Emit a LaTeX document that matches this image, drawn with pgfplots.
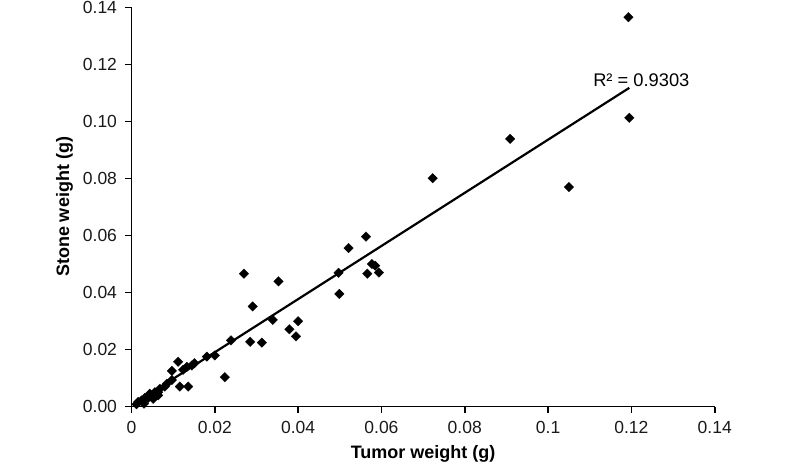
\documentclass[border=0pt]{standalone}
\usepackage{fontspec}
\setmainfont{Liberation Sans}
\usepackage{pgfplots}
\pgfplotsset{compat=1.18}
\usetikzlibrary{calc}
\begin{document}
\begin{tikzpicture}
\begin{axis}[
  name=ax,
  scale only axis,
  width=583.2bp, height=399bp,
  xmin=0, xmax=0.14, ymin=0, ymax=0.14,
  axis x line*=bottom, axis y line*=left,
  axis line style={-, line width=1.6bp, black},
  xtick={0,0.02,0.04,0.06,0.08,0.1,0.12,0.14},
  xticklabels={0,0.02,0.04,0.06,0.08,0.1,0.12,0.14},
  ytick={0,0.02,0.04,0.06,0.08,0.1,0.12,0.14},
  yticklabels={0.00,0.02,0.04,0.06,0.08,0.10,0.12,0.14},
  tick align=outside,
  major tick length=6bp,
  tick style={line width=1.6bp, black},
  ticklabel style={font=\fontsize{17.5bp}{20bp}\selectfont, text=black!90},
  yticklabel style={xshift=-5bp},
  xticklabel style={yshift=-5bp},
  xlabel={\textbf{Tumor weight (g)}},
  ylabel={\textbf{Stone weight (g)}},
  label style={font=\fontsize{18bp}{21bp}\selectfont},
  xlabel style={at={($(axis description cs:0.5,0)+(0,-47bp)$)}, anchor=center},
  ylabel style={at={($(axis description cs:0,0.5)+(-67bp,0)$)}, anchor=center},
  clip=false,
]
\addplot[only marks, mark=square*, mark size=3.4bp,
  mark options={rotate=45, fill=black, draw=black, line width=0.2bp}]
coordinates {
(0.1193,0.1366) (0.1195,0.1013) (0.1050,0.0770) (0.0909,0.0939)
(0.0723,0.0801) (0.0563,0.0596) (0.0521,0.0556) (0.0577,0.0500)
(0.0585,0.0494) (0.0594,0.0470) (0.0566,0.0466) (0.0497,0.0469)
(0.0499,0.0395) (0.0270,0.0466) (0.0353,0.0439) (0.0291,0.0351)
(0.0339,0.0304) (0.0400,0.0299) (0.0379,0.0271) (0.0395,0.0246)
(0.0239,0.0232) (0.0285,0.0227) (0.0313,0.0224) (0.0224,0.0103)
(0.0200,0.0179) (0.0181,0.0175) (0.0151,0.0152) (0.0112,0.0157)
(0.0133,0.0139) (0.0145,0.0144) (0.0124,0.0129) (0.0097,0.0125)
(0.0097,0.0093) (0.0116,0.0070) (0.0136,0.0070) (0.0080,0.0070)
(0.0068,0.0062) (0.0064,0.0050) (0.0056,0.0050) (0.0044,0.0045)
(0.0032,0.0030) (0.0024,0.0021) (0.0016,0.0016) (0.0052,0.0027)
(0.0064,0.0039) (0.0085,0.0080) (0.0030,0.0010) (0.0012,0.0008)
(0.0040,0.0030)
};
\addplot[black, line width=2.2bp] coordinates {(0.0012,0.0015) (0.1195,0.1118)};
\node[anchor=base west, font=\fontsize{18.3bp}{21bp}\selectfont, inner sep=0pt]
  at (axis cs:0.1108,0.1123) {R² = 0.9303};
\end{axis}
\pgfresetboundingbox
\path ($(ax.south west)+(-131.5bp,-60.5bp)$) rectangle ($(ax.north east)+(76.3bp,7.5bp)$);
\end{tikzpicture}
\end{document}
